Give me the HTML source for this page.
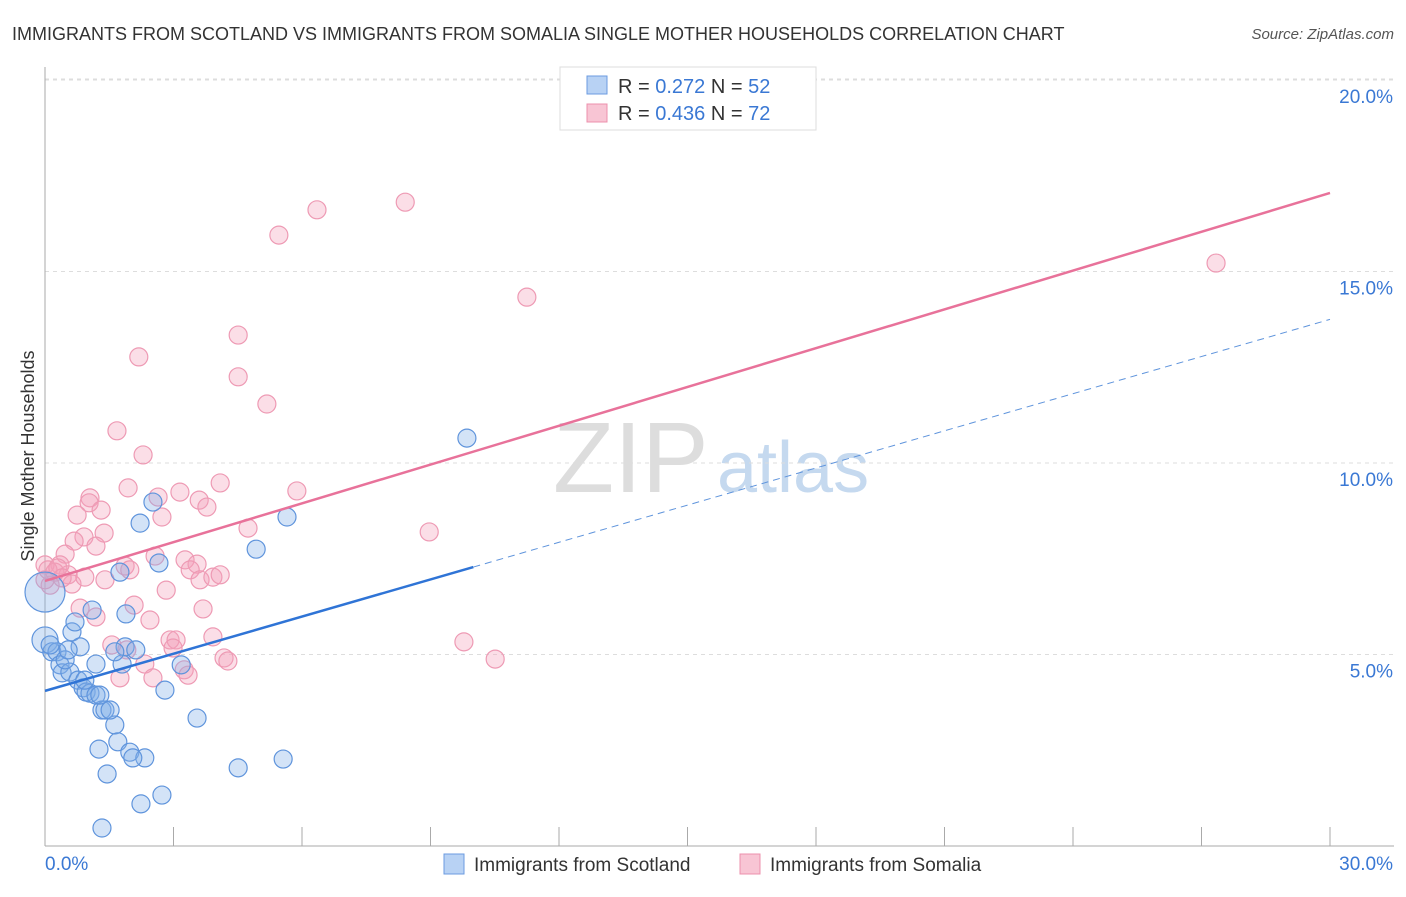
<!DOCTYPE html>
<html><head><meta charset="utf-8"><style>
body{margin:0;background:#fff;font-family:"Liberation Sans",sans-serif;}
svg text{font-family:"Liberation Sans",sans-serif;}
</style></head><body>
<svg id="c" width="1406" height="892" xmlns="http://www.w3.org/2000/svg">
<text x="12" y="40" font-size="18" fill="#333">IMMIGRANTS FROM SCOTLAND VS IMMIGRANTS FROM SOMALIA SINGLE MOTHER HOUSEHOLDS CORRELATION CHART</text>
<text x="1394" y="39" font-size="15" fill="#555" font-style="italic" text-anchor="end">Source: ZipAtlas.com</text>
<g>
<text x="553" y="492" font-size="100" fill="#ddd" font-family="Liberation Serif">ZIP</text>
<text x="717" y="492" font-size="72" fill="#c5d9ef">atlas</text>
</g>
<g id="grid"></g>
<g id="axes"></g>
<g id="pts"></g>
<g id="lines"></g>
<text transform="translate(34,456) rotate(-90)" font-size="18" fill="#333" text-anchor="middle">Single Mother Households</text>
<g>
<rect x="560" y="67" width="256" height="63" fill="#fff" stroke="#ddd"/>
<rect x="587" y="76" width="20" height="18" fill="#b8d2f4" stroke="#6b9be0"/>
<rect x="587" y="104" width="20" height="18" fill="#f8c5d4" stroke="#ec90ac"/>
<text x="618" y="93" font-size="20" fill="#333">R = <tspan fill="#3a78d4">0.272</tspan>   N = <tspan fill="#3a78d4">52</tspan></text>
<text x="618" y="120" font-size="20" fill="#333">R = <tspan fill="#3a78d4">0.436</tspan>   N = <tspan fill="#3a78d4">72</tspan></text>
</g>
<g>
<rect x="444" y="854" width="20" height="20" fill="#b8d2f4" stroke="#6b9be0"/>
<text x="474" y="871" font-size="19" fill="#333">Immigrants from Scotland</text>
<rect x="740" y="854" width="20" height="20" fill="#f8c5d4" stroke="#ec90ac"/>
<text x="770" y="871" font-size="19" fill="#333">Immigrants from Somalia</text>
</g>
</svg>
<script>
const xTicks=[0,3,6,9,12,15,18,21,24,27,30];
const yTicks=[5,10,15,20];
const yTickLabels=["5.0%","10.0%","15.0%","20.0%"];
const xEndLabels=["0.0%","30.0%"];
const scotX=[0,0,0.16,0.28,0.35,0.40,0.58,0.63,0.70,0.82,0.77,0.89,0.96,1.05,1.19,1.10,1.19,1.33,1.40,1.63,1.26,1.70,1.45,1.98,2.33,2.24,1.33,2.73,1.87,1.89,1.80,2.12,1.75,2.22,2.52,2.66,2.80,3.18,3.55,4.51,4.93,5.56,5.65,9.85,0.12,0.47,1.28,0.93,1.63,2.05,0.54,1.52];
const scotY=[6.63,5.38,5.07,5.07,4.73,4.52,4.54,5.59,5.85,5.20,4.33,4.13,4.02,3.99,3.94,6.16,4.75,3.55,3.55,3.16,2.53,2.72,1.88,2.45,2.30,1.10,0.47,1.33,5.20,6.06,4.75,5.12,7.15,8.43,8.98,7.39,4.07,4.73,3.34,2.04,7.75,2.27,8.59,10.65,5.25,4.86,3.94,4.33,5.07,2.30,5.12,3.55];
const scotR=[20,13,9,9,9,9,9,9,9,9,9,9,9,9,9,9,9,9,9,9,9,9,9,9,9,9,9,9,9,9,9,9,9,9,9,9,9,9,9,9,9,9,9,9,9,9,9,9,9,9,9,9];
const somX=[8.41,6.35,5.46,11.25,27.34,4.51,2.19,4.51,5.18,1.68,2.29,8.97,9.78,10.51,1.05,1.03,1.31,0.75,1.94,2.64,3.15,3.60,3.78,4.09,5.88,2.73,4.74,1.38,0.91,0.68,1.19,0.47,0.35,0,0.23,0.54,0.12,0.63,0.93,1.40,1.87,1.98,2.57,3.27,3.55,3.39,3.62,3.92,4.09,2.83,0.82,1.19,2.08,2.45,3.69,1.56,1.91,2.92,3.06,2.99,3.92,4.18,4.27,2.33,3.25,3.34,1.75,2.52,0,0.07,0.30,0.40];
const somY=[16.81,16.61,15.95,14.33,15.22,13.34,12.77,12.25,11.54,10.84,10.21,8.20,5.33,4.88,9.09,8.96,8.77,8.64,9.35,9.11,9.24,9.03,8.85,9.48,9.27,8.59,8.30,8.17,8.07,7.96,7.83,7.62,7.34,7.34,7.15,7.08,6.81,6.84,7.02,6.95,7.31,7.21,7.57,7.47,7.36,7.21,6.95,7.02,7.08,6.68,6.21,5.98,6.29,5.90,6.19,5.25,5.12,5.38,5.38,5.17,5.46,4.91,4.83,4.75,4.60,4.46,4.39,4.39,6.95,7.21,7.26,7.00];
const scotTrend=[4.05,13.75];
const somTrend=[6.92,17.05];
const scotSolidEnd=10;
const NS="http://www.w3.org/2000/svg";
function X(v){return 45+v*(1330-45)/30;}
function Y(v){return 846-v*38.3;}
function mk(tag,attrs,parent){const e=document.createElementNS(NS,tag);for(const k in attrs)e.setAttribute(k,attrs[k]);parent.appendChild(e);return e;}
const grid=document.getElementById('grid'),axes=document.getElementById('axes'),pts=document.getElementById('pts'),lines=document.getElementById('lines');
yTicks.forEach((t,i)=>{
 const l=mk('line',{x1:45,x2:1394,y1:Y(t)-8+8,y2:Y(t),stroke:'#ddd','stroke-dasharray':'4,4'},grid);
 
 
 const tx=mk('text',{x:1393,y:Y(t)+23,'font-size':19,fill:'#3a78d4','text-anchor':'end'},axes);
 tx.textContent=yTickLabels[i];
 
 
});
const topG=mk('line',{x1:45,x2:1394,y1:79,y2:79,stroke:'#ddd','stroke-dasharray':'4,4'},grid);


const ya=mk('line',{x1:45,x2:45,y1:67,y2:846,stroke:'#aaa'},axes);


const xa=mk('line',{x1:45,x2:1394,y1:846,y2:846,stroke:'#aaa'},axes);


xTicks.forEach(t=>{
 const l=mk('line',{x1:X(t),x2:X(t),y1:827,y2:846,stroke:'#aaa'},axes);
 
 
});
[[0,'start',45],[30,'end',1393]].forEach((a,i)=>{
 const tx=mk('text',{x:a[2],y:870,'font-size':19,fill:'#3a78d4','text-anchor':a[1]},axes);
 tx.textContent=xEndLabels[i];
 
 
});
somX.forEach((x,i)=>{
 const c=mk('circle',{cx:X(x),cy:Y(somY[i]),r:9,fill:'rgba(244,160,186,0.35)',stroke:'#ee9ab4','stroke-width':1.2},pts);
 
 
});
scotX.forEach((x,i)=>{
 const c=mk('circle',{cx:X(x),cy:Y(scotY[i]),r:scotR[i],fill:'rgba(130,175,232,0.35)',stroke:'#5f94dc','stroke-width':1.2},pts);
 
 
});
function ty(tr,x){return tr[0]+(tr[1]-tr[0])*x/30;}
const pl=mk('line',{x1:X(0),y1:Y(somTrend[0]),x2:X(30),y2:Y(somTrend[1]),stroke:'#e8729a','stroke-width':2.5},lines);


const bl=mk('line',{x1:X(0),y1:Y(scotTrend[0]),x2:X(scotSolidEnd),y2:Y(ty(scotTrend,scotSolidEnd)),stroke:'#2f74d6','stroke-width':2.5},lines);


const bd=mk('line',{x1:X(scotSolidEnd),y1:Y(ty(scotTrend,scotSolidEnd)),x2:X(30),y2:Y(scotTrend[1]),stroke:'#5f94dc','stroke-width':1,'stroke-dasharray':'7,5'},lines);


</script>
</body></html>
